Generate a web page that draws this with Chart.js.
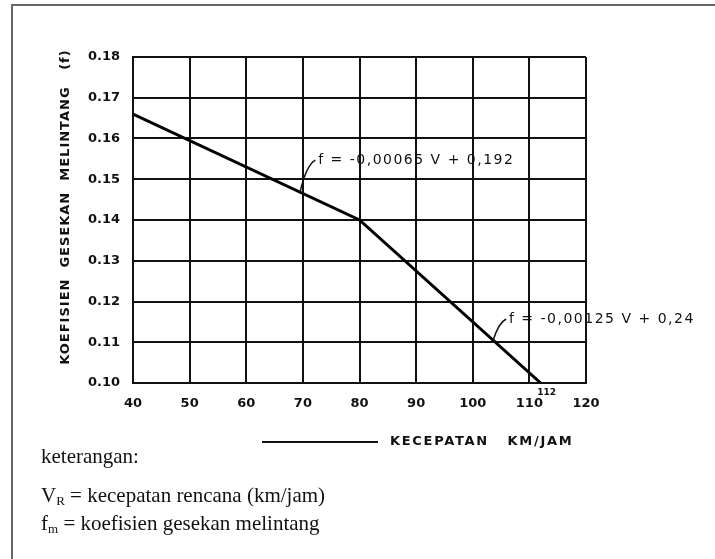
<!DOCTYPE html>
<html>
<head>
<meta charset="utf-8">
<script src="https://cdn.jsdelivr.net/npm/chart.js@4/dist/chart.umd.min.js"></script>
<style>
  body { margin: 0; background: #fff; }
  #wrap { position: relative; width: 715px; height: 559px; }
  .note { position: absolute; left: 41px; font-family: "Liberation Serif", serif; font-size: 21px; line-height: 24px; color: #111; white-space: nowrap; }
  .note sub { font-size: 13px; vertical-align: -3px; }
</style>
</head>
<body>
<div id="wrap">
  <canvas id="chart" width="715" height="559"></canvas>
  <div class="note" style="top:444px">keterangan:</div>
  <div class="note" style="top:483px">V<sub>R</sub> = kecepatan rencana (km/jam)</div>
  <div class="note" style="top:511px">f<sub>m</sub> = koefisien gesekan melintang</div>
</div>
<script>
// design speed (km/jam) and side friction coefficient
const speeds = [40, 80, 112];
const friction = [0.166, 0.14, 0.10];

const xTicks = [40, 50, 60, 70, 80, 90, 100, 110, 120];
const yTicks = [0.10, 0.11, 0.12, 0.13, 0.14, 0.15, 0.16, 0.17, 0.18];

const yTitle = 'KOEFISIEN  GESEKAN  MELINTANG   (f)';
const xTitle = 'KECEPATAN   KM/JAM';
const eq1 = 'f = -0,00065 V + 0,192';
const eq2 = 'f = -0,00125 V + 0,24';

const ink = '#111';
const tickFont = { family: 'DejaVu Sans', size: 13, weight: 'bold' };

const decor = {
    id: 'decor',
    beforeDraw(chart) {
        const ctx = chart.ctx;
        ctx.save();
        ctx.fillStyle = '#fff';
        ctx.fillRect(0, 0, chart.width, chart.height);
        ctx.strokeStyle = '#666';
        ctx.lineWidth = 2;
        ctx.strokeRect(12, 5, 800, 700);
        ctx.restore();
    },
    afterDraw(chart) {
        const ctx = chart.ctx;
        const x = chart.scales.x, y = chart.scales.y;
        const px = v => x.getPixelForValue(v);
        const py = v => y.getPixelForValue(v);
        ctx.save();
        ctx.fillStyle = ink;
        ctx.strokeStyle = ink;

        // y title
        ctx.save();
        ctx.translate(66, 207);
        ctx.rotate(-Math.PI / 2);
        ctx.font = 'bold 13px "DejaVu Sans"';
        ctx.letterSpacing = '1px';
        ctx.textAlign = 'center';
        ctx.textBaseline = 'middle';
        ctx.fillText(yTitle, 0, 0);
        ctx.restore();

        // x title with leading rule
        ctx.lineWidth = 2;
        ctx.beginPath();
        ctx.moveTo(262, 442);
        ctx.lineTo(378, 442);
        ctx.stroke();
        ctx.font = 'bold 13px "DejaVu Sans"';
        ctx.letterSpacing = '1.7px';
        ctx.textBaseline = 'middle';
        ctx.textAlign = 'left';
        ctx.fillText(xTitle, 390, 442);

        // equation leaders
        ctx.lineWidth = 1.5;
        ctx.beginPath();
        ctx.moveTo(px(69.5), py(0.192 - 0.00065 * 69.5));
        ctx.quadraticCurveTo(px(70.6), py(0.1535), px(72.2), py(0.1547));
        ctx.stroke();
        ctx.beginPath();
        ctx.moveTo(px(103.6), py(0.24 - 0.00125 * 103.6));
        ctx.quadraticCurveTo(px(104.6), py(0.1148), px(105.9), py(0.1157));
        ctx.stroke();

        ctx.font = '14px "DejaVu Sans"';
        ctx.letterSpacing = '1.5px';
        ctx.fillText(eq1, px(72.7), py(0.1547));
        ctx.fillText(eq2, px(106.4), py(0.1157));

        // end speed mark
        ctx.font = 'bold 9px "DejaVu Sans"';
        ctx.letterSpacing = '0px';
        ctx.textAlign = 'center';
        ctx.fillText('112', px(112) + 6, y.bottom + 10);
        ctx.restore();
    }
};

new Chart(document.getElementById('chart'), {
    type: 'scatter',
    data: {
        datasets: [{
            data: speeds.map((v, i) => ({ x: v, y: friction[i] })),
            showLine: true,
            borderColor: '#000',
            borderWidth: 3,
            pointRadius: 0,
            tension: 0
        }]
    },
    options: {
        responsive: false,
        animation: false,
        devicePixelRatio: 1,
        layout: { padding: { left: 0, top: 57, right: 129, bottom: 146 } },
        plugins: { legend: { display: false }, tooltip: { enabled: false } },
        scales: {
            x: {
                type: 'linear',
                min: 40, max: 120,
                afterBuildTicks: s => { s.ticks = xTicks.map(v => ({ value: v })); },
                afterFit: s => { s.height = 30; },
                grid: { color: ink, lineWidth: 2, drawTicks: false },
                border: { color: ink, width: 2 },
                ticks: { color: ink, font: tickFont, padding: 13, maxRotation: 0 }
            },
            y: {
                min: 0.10, max: 0.18,
                afterBuildTicks: s => { s.ticks = yTicks.map(v => ({ value: v })); },
                afterFit: s => { s.width = 133; },
                grid: { color: ink, lineWidth: 2, drawTicks: false },
                border: { color: ink, width: 2 },
                ticks: { color: ink, font: tickFont, padding: 13, callback: v => v.toFixed(2) }
            }
        }
    },
    plugins: [decor]
});
</script>
</body>
</html>
